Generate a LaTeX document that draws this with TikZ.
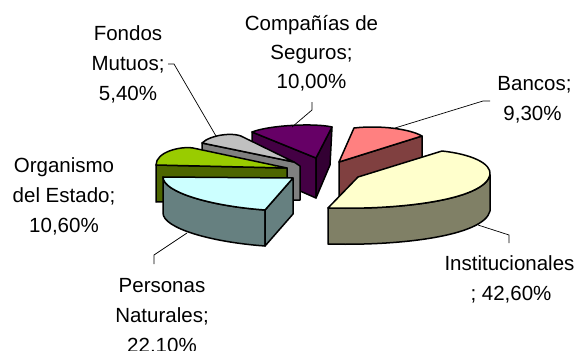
\documentclass[tikz,border=0pt]{standalone}
\usepackage{fontspec}
\setmainfont{Liberation Sans}
\definecolor{insT}{HTML}{FFFFCC}
\definecolor{insS}{HTML}{808066}
\definecolor{perT}{HTML}{CCFFFF}
\definecolor{perS}{HTML}{668080}
\definecolor{orgT}{HTML}{99CC00}
\definecolor{orgS}{HTML}{4D6600}
\definecolor{fonT}{HTML}{C0C0C0}
\definecolor{fonS}{HTML}{808080}
\definecolor{comT}{HTML}{660066}
\definecolor{comL}{HTML}{440044}
\definecolor{comR}{HTML}{330033}
\definecolor{banT}{HTML}{FF8080}
\definecolor{banS}{HTML}{804040}
\begin{document}
\begin{tikzpicture}[x=1pt,y=-1pt,
  face/.style={draw=black,line width=1.5pt,line join=round},
  leader/.style={draw=black,line width=0.7pt},
  lbl/.style={anchor=base,inner sep=0pt,font=\fontsize{20.5}{24}\selectfont}]
\useasboundingbox (0,0) rectangle (579,351);

% Compañías de Seguros
\path[face,fill=comL] (252,132) -- (316,158) -- (316,198) -- (252,170) -- cycle;
\path[face,fill=comR] (332,127) -- (316,158) -- (316,198) -- (330,165) -- cycle;
\path[face,fill=comT] (252,132) .. controls (270,125) and (315,123) .. (332,127) -- (316,158) -- cycle;

% Bancos
\path[face,fill=banS] (339,162) -- (422,136) -- (422,172) -- (339,198) -- cycle;
\path[face,fill=banT] (339,162) -- (354,128) .. controls (380,125) and (410,129) .. (422,136) -- cycle;

% Fondos Mutuos
\path[face,fill=fonS] (202,143) -- (294,162) -- (300,166) -- (300,200) -- (287,200) -- (202,180) -- cycle;
\path[face,fill=fonT] (202,143) .. controls (210,135) and (235,131) .. (245,138) -- (294,162) -- cycle;

% Organismo del Estado
\path[face,fill=orgS] (156,165) -- (287,168) -- (287,200) -- (156,202) -- cycle;
\path[face,fill=orgT] (156,165) .. controls (156,152) and (180,146) .. (193,148) -- (287,168) -- cycle;

% Institucionales
\path[face,fill=insS] (328,208) .. controls (400,210) and (484,200) .. (490,175)
  -- (490,211) .. controls (484,236) and (400,246) .. (328,244) -- cycle;
\path[face,fill=insT] (328,208) -- (358,177) -- (442,151)
  .. controls (470,154) and (492,163) .. (490,175)
  .. controls (484,200) and (400,210) .. (328,208) -- cycle;

% Personas Naturales
\path[face,fill=perS] (163,177) .. controls (163,192) and (210,206) .. (265,210)
  -- (265,246) .. controls (210,242) and (163,228) .. (163,213) -- cycle;
\path[face,fill=perS] (265,210) -- (293,178) -- (293,214) -- (265,246) -- cycle;
\path[face,fill=perT] (163,177) -- (293,178) -- (265,210)
  .. controls (210,206) and (163,192) .. (163,177) -- cycle;

% leader end points
\coordinate (fonA) at (216,136);
\coordinate (fonB) at (174,64);
\coordinate (fonC) at (168,64);
\coordinate (comA) at (292,127);
\coordinate (comB) at (312,110);
\coordinate (comC) at (312,102);
\coordinate (banA) at (395,128);
\coordinate (banB) at (483,101);
\coordinate (banC) at (490,101);
\coordinate (insA) at (478,225);
\coordinate (insB) at (509,235);
\coordinate (insC) at (509,243);
\coordinate (perA) at (187,233);
\coordinate (perB) at (154,255);
\coordinate (perC) at (154,264);

\draw[leader] (fonA) -- (fonB) -- (fonC);
\draw[leader] (comA) -- (comB) -- (comC);
\draw[leader] (banA) -- (banB) -- (banC);
\draw[leader] (insA) -- (insB) -- (insC);
\draw[leader] (perA) -- (perB) -- (perC);

% labels
\node[lbl] (fon1) at (128,40.5) {Fondos};
\node[lbl] (fon2) at (128,70) {Mutuos;};
\node[lbl] (fon3) at (128,100) {5,40\%};
\node[lbl] (com1) at (311.5,30) {Compañías de};
\node[lbl] (com2) at (311.5,59) {Seguros;};
\node[lbl] (com3) at (311.5,88) {10,00\%};
\node[lbl] (ban1) at (534.5,90) {Bancos;};
\node[lbl] (ban2) at (532.5,120) {9,30\%};
\node[lbl] (org1) at (64,172.5) {Organismo};
\node[lbl] (org2) at (64,202.5) {del Estado;};
\node[lbl] (org3) at (64,232) {10,60\%};
\node[lbl] (per1) at (162,292) {Personas};
\node[lbl] (per2) at (162,322) {Naturales;};
\node[lbl] (per3) at (162,352) {22,10\%};
\node[lbl] (ins1) at (509.5,270) {Institucionales};
\node[lbl] (ins2) at (511,300) {; 42,60\%};
\end{tikzpicture}
\end{document}
